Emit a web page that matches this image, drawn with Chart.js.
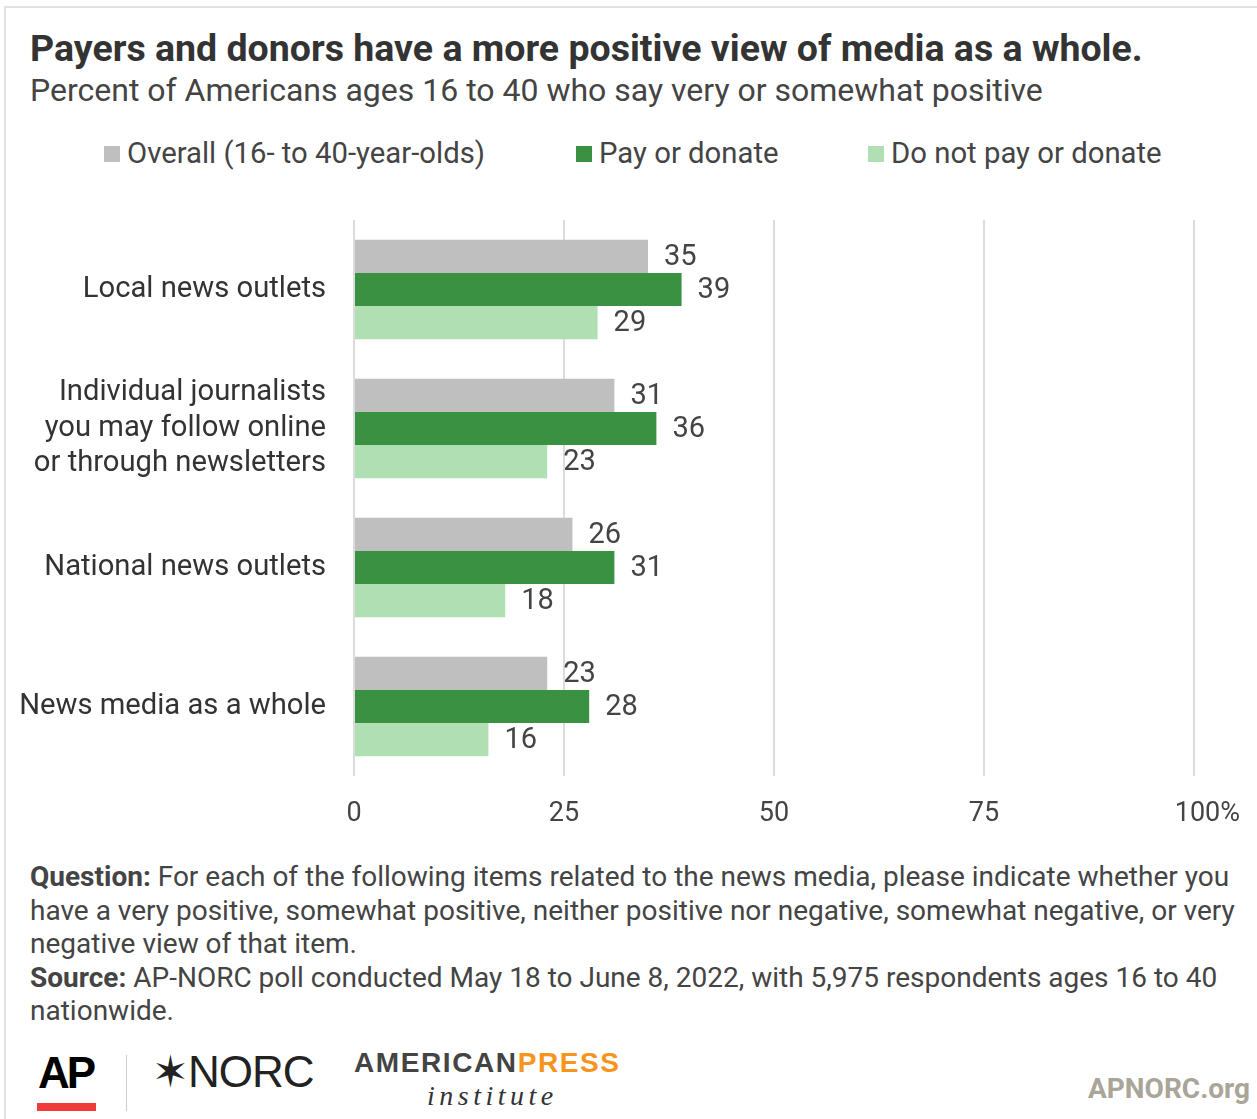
<!DOCTYPE html>
<html>
<head>
<meta charset="utf-8">
<script src="https://cdn.jsdelivr.net/npm/chart.js@4"></script>
<style>
  body { margin: 0; background: #fff; font-family: Roboto, sans-serif; color: #444; }
  #page { position: relative; width: 1257px; height: 1119px; overflow: hidden; }
  #frame { position: absolute; left: 4px; top: 6px; width: 1300px; height: 1200px; border: 2px solid #e2e2e2; box-sizing: border-box; }
  .abs { position: absolute; white-space: nowrap; }
  #title { left: 30px; top: 27px; font-size: 37.5px; font-weight: bold; color: #333; line-height: 42px; }
  #subtitle { left: 30px; top: 72px; font-size: 32px; color: #444; line-height: 36px; }
  #legend { left: 0; top: 136px; font-size: 29.3px; color: #444; line-height: 34px; }
  .lg { position: absolute; top: 0; white-space: nowrap; }
  .sw { display: inline-block; width: 16px; height: 16px; margin-right: 7px; vertical-align: 1px; }
  #wrap { position: absolute; left: 0; top: 190px; width: 1257px; height: 650px; }
  #footer { left: 30px; top: 860px; font-size: 28px; line-height: 33.5px; color: #444; }
</style>
</head>
<body>
<div id="page">
  <div id="frame"></div>
  <div class="abs" id="title">Payers and donors have a more positive view of media as a whole.</div>
  <div class="abs" id="subtitle">Percent of Americans ages 16 to 40 who say very or somewhat positive</div>
  <div class="abs" id="legend"></div>
  <div id="wrap"><canvas id="chart"></canvas></div>
  <div class="abs" id="footer"><b>Question:</b> For each of the following items related to the news media, please indicate whether you<br>have a very positive, somewhat positive, neither positive nor negative, somewhat negative, or very<br>negative view of that item.<br><b>Source:</b> AP-NORC poll conducted May 18 to June 8, 2022, with 5,975 respondents ages 16 to 40<br>nationwide.</div>

  <!-- logos -->
  <div class="abs" style="left:38px; top:1048px; font-size:44px; font-weight:900; color:#000; letter-spacing:-3px; font-family:'Liberation Sans', Arial, sans-serif;">AP</div>
  <div class="abs" style="left:37px; top:1103px; width:59px; height:8px; background:#ef3b39;"></div>
  <div class="abs" style="left:126px; top:1055px; width:1px; height:56px; background:#ccc;"></div>
  <div class="abs" style="left:152px; top:1046px; font-size:44px; color:#222; letter-spacing:-1px; font-family:'Liberation Sans', Arial, sans-serif;">&#10038;NORC</div>
  <div class="abs" style="left:354px; top:1047px; font-size:28px; font-weight:bold; letter-spacing:1.6px; color:#444; font-family:'Liberation Sans', Arial, sans-serif;">AMERICAN<span style="color:#f7941d">PRESS</span></div>
  <div class="abs" style="left:427px; top:1080px; font-size:28px; font-style:italic; letter-spacing:4.5px; color:#333; font-family:'Liberation Serif', serif;">institute</div>
  <div class="abs" style="left:1088px; top:1072px; font-size:28px; font-weight:bold; color:#a9a598;">APNORC.org</div>
</div>

<script>
// categories (multi-line labels)
var categories = [
  ["Local news outlets"],
  ["Individual journalists", "you may follow online", "or through newsletters"],
  ["National news outlets"],
  ["News media as a whole"]
];
var seriesNames = ["Overall (16- to 40-year-olds)", "Pay or donate", "Do not pay or donate"];
var overall = [35, 31, 26, 23];
var payDonate = [39, 36, 31, 28];
var notPay = [29, 23, 18, 16];
var seriesColors = ["#bfbfbf", "#3a9142", "#b0dfb4"];
var xTicks = [0, 25, 50, 75, 100];

// legend in html
var legendPos = [104, 576, 868];
var legend = document.getElementById("legend");
for (var i = 0; i < seriesNames.length; i++) {
  var d = document.createElement("div");
  d.className = "lg";
  d.style.left = legendPos[i] + "px";
  d.innerHTML = '<span class="sw" style="background:' + seriesColors[i] + '"></span>' + seriesNames[i];
  legend.appendChild(d);
}

// value labels at the end of each bar
var valueLabels = {
  id: "valueLabels",
  afterDatasetsDraw: function(chart) {
    var ctx = chart.ctx;
    ctx.save();
    ctx.font = "29px Roboto";
    ctx.fillStyle = "#444";
    ctx.textAlign = "left";
    ctx.textBaseline = "middle";
    chart.data.datasets.forEach(function(ds, di) {
      var meta = chart.getDatasetMeta(di);
      meta.data.forEach(function(bar, j) {
        ctx.fillText(ds.data[j], bar.x + 16, bar.y + 1);
      });
    });
    ctx.restore();
  }
};

var ctx = document.getElementById("chart").getContext("2d");
var chart = new Chart(ctx, {
  type: "bar",
  data: {
    labels: categories,
    datasets: [
      { label: seriesNames[0], data: overall, backgroundColor: seriesColors[0] },
      { label: seriesNames[1], data: payDonate, backgroundColor: seriesColors[1] },
      { label: seriesNames[2], data: notPay, backgroundColor: seriesColors[2] }
    ]
  },
  options: {
    indexAxis: "y",
    responsive: true,
    maintainAspectRatio: false,
    animation: false,
    datasets: { bar: { categoryPercentage: 0.715, barPercentage: 1.0 } },
    layout: { padding: { top: 30, right: 63, bottom: 4, left: 0 } },
    plugins: { legend: { display: false }, tooltip: { enabled: false } },
    scales: {
      x: {
        min: 0, max: 100,
        afterBuildTicks: function(s) { s.ticks = xTicks.map(function(v) { return { value: v }; }); },
        afterFit: function(s) { s.height = 60; s.paddingLeft = 0; s.paddingRight = 0; },
        grid: { color: "#dcdcdc", lineWidth: 2, drawTicks: false },
        border: { display: false },
        ticks: {
          padding: 22,
          color: "#444",
          font: { family: "Roboto", size: 27 },
          maxRotation: 0,
          callback: function(v) { return v === 100 ? "    100%" : v; }
        }
      },
      y: {
        afterFit: function(s) { s.width = 354; s.paddingTop = 0; s.paddingBottom = 0; },
        grid: { display: false, drawTicks: false },
        border: { display: false },
        ticks: {
          padding: 28,
          color: "#333",
          font: { family: "Roboto", size: 29.2, lineHeight: 1.216 }
        }
      }
    }
  },
  plugins: [valueLabels]
});
</script>
</body>
</html>
